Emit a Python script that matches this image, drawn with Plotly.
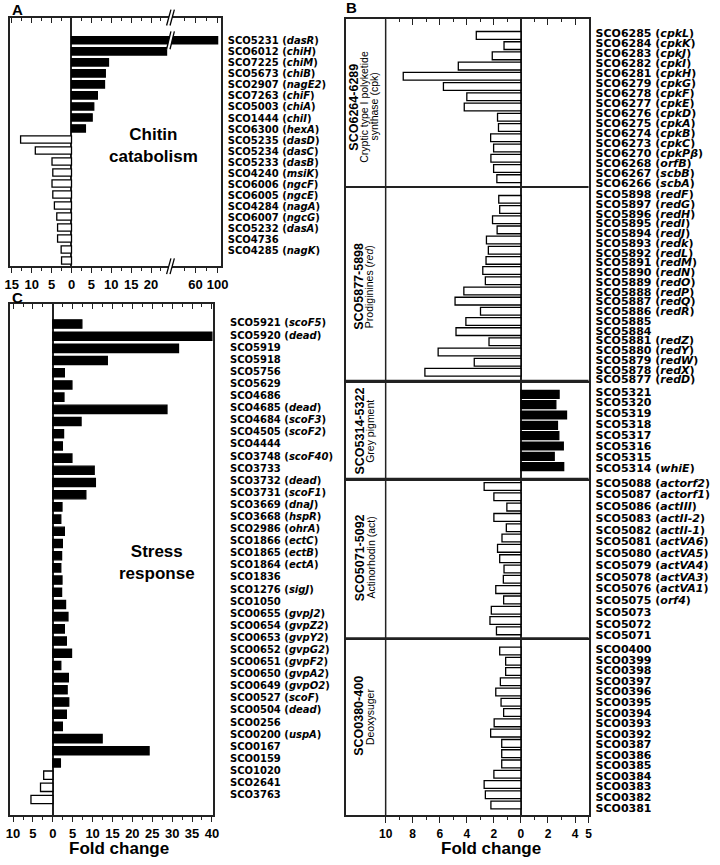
import plotly.graph_objects as go

W, H = 720, 865

# ======================= DATA =======================
# Panel A - chitin catabolism
A_LABELS = ["SCO5231 (<i>dasR</i>)", "SCO6012 (<i>chiH</i>)", "SCO7225 (<i>chiM</i>)", "SCO5673 (<i>chiB</i>)",
            "SCO2907 (<i>nagE2</i>)", "SCO7263 (<i>chiF</i>)", "SCO5003 (<i>chiA</i>)", "SCO1444 (<i>chiI</i>)",
            "SCO6300 (<i>hexA</i>)", "SCO5235 (<i>dasD</i>)", "SCO5234 (<i>dasC</i>)", "SCO5233 (<i>dasB</i>)",
            "SCO4240 (<i>msiK</i>)", "SCO6006 (<i>ngcF</i>)", "SCO6005 (<i>ngcE</i>)", "SCO4284 (<i>nagA</i>)",
            "SCO6007 (<i>ngcG</i>)", "SCO5232 (<i>dasA</i>)", "SCO4736", "SCO4285 (<i>nagK</i>)"]
A_VALUES = [100, 23.9, 9.3, 8.5, 8.3, 6.5, 5.6, 5.2, 3.5,
            -12.8, -9.1, -4.9, -4.7, -4.9, -4.7, -4.3, -3.7, -3.5, -3.5, -2.6, -2.5]
A_LEFT_TICKS = [-15, -10, -5, 0, 5, 10, 15, 20]
A_LEFT_TICKTEXT = ["15", "10", "5", "0", "5", "10", "15", "20"]
A_LEFT_MINOR = [-12.5, -7.5, -2.5, 2.5, 7.5, 12.5, 17.5, 22.5]
A_RIGHT_TICKS = [60, 100]
A_RIGHT_TICKTEXT = ["60", "100"]
A_RIGHT_MINOR = [40, 80]

# Panel C - stress response
C_LABELS = ["SCO5921 (<i>scoF5</i>)", "SCO5920 (<i>dead</i>)", "SCO5919", "SCO5918", "SCO5756", "SCO5629",
            "SCO4686", "SCO4685 (<i>dead</i>)", "SCO4684 (<i>scoF3</i>)", "SCO4505 (<i>scoF2</i>)", "SCO4444",
            "SCO3748 (<i>scoF40</i>)", "SCO3733", "SCO3732 (<i>dead</i>)", "SCO3731 (<i>scoF1</i>)",
            "SCO3669 (<i>dnaJ</i>)", "SCO3668 (<i>hspR</i>)", "SCO2986 (<i>ohrA</i>)", "SCO1866 (<i>ectC</i>)",
            "SCO1865 (<i>ectB</i>)", "SCO1864 (<i>ectA</i>)", "SCO1836", "SCO1276 (<i>sigJ</i>)", "SCO1050",
            "SCO0655 (<i>gvpJ2</i>)", "SCO0654 (<i>gvpZ2</i>)", "SCO0653 (<i>gvpY2</i>)", "SCO0652 (<i>gvpG2</i>)",
            "SCO0651 (<i>gvpF2</i>)", "SCO0650 (<i>gvpA2</i>)", "SCO0649 (<i>gvpO2</i>)", "SCO0527 (<i>scoF</i>)",
            "SCO0504 (<i>dead</i>)", "SCO0256", "SCO0200 (<i>uspA</i>)", "SCO0167", "SCO0159", "SCO1020",
            "SCO2641", "SCO3763"]
C_VALUES = [7.3, 40, 31.6, 13.7, 2.9, 4.8, 2.8, 28.7, 7.1, 2.7, 2.4, 4.8, 10.4, 10.7, 8.3, 2.3, 2.0, 2.9,
            2.4, 2.2, 2.0, 2.3, 2.2, 3.2, 3.8, 2.9, 3.4, 4.7, 2.0, 3.9, 3.6, 4.0, 3.4, 2.4, 12.4, 24.2, 1.9,
            -2.3, -3.1, -5.5]
C_TICKS = [-10, -5, 0, 5, 10, 15, 20, 25, 30, 35, 40]
C_TICKTEXT = ["10", "5", "0", "5", "10", "15", "20", "25", "30", "35", "40"]
C_MINOR = [-7.5, -2.5, 2.5, 7.5, 12.5, 17.5, 22.5, 27.5, 32.5, 37.5]

# Panel B - antibiotic / pigment clusters
CPK_LABELS = ["SCO6285 (<i>cpkL</i>)", "SCO6284 (<i>cpkK</i>)", "SCO6283 (<i>cpkJ</i>)", "SCO6282 (<i>cpkI</i>)",
              "SCO6281 (<i>cpkH</i>)", "SCO6279 (<i>cpkG</i>)", "SCO6278 (<i>cpkF</i>)", "SCO6277 (<i>cpkE</i>)",
              "SCO6276 (<i>cpkD</i>)", "SCO6275 (<i>cpkA</i>)", "SCO6274 (<i>cpkB</i>)", "SCO6273 (<i>cpkC</i>)",
              "SCO6270 (<i>cpkPβ</i>)", "SCO6268 (<i>orfB</i>)", "SCO6267 (<i>scbB</i>)", "SCO6266 (<i>scbA</i>)"]
CPK_VALUES = [-3.30, -1.25, -2.12, -4.63, -8.7, -5.73, -4.0, -4.19, -1.73, -1.66, -2.24, -2.02, -2.22,
              -2.02, -1.78]
RED_LABELS = ["SCO5898 (<i>redF</i>)", "SCO5897 (<i>redG</i>)", "SCO5896 (<i>redH</i>)", "SCO5895 (<i>redI</i>)",
              "SCO5894 (<i>redJ</i>)", "SCO5893 (<i>redk</i>)", "SCO5892 (<i>redL</i>)", "SCO5891 (<i>redM</i>)",
              "SCO5890 (<i>redN</i>)", "SCO5889 (<i>redO</i>)", "SCO5888 (<i>redP</i>)", "SCO5887 (<i>redQ</i>)",
              "SCO5886 (<i>redR</i>)", "SCO5885", "SCO5884", "SCO5881 (<i>redZ</i>)", "SCO5880 (<i>redY</i>)",
              "SCO5879 (<i>redW</i>)", "SCO5878 (<i>redX</i>)", "SCO5877 (<i>redD</i>)"]
RED_VALUES = [-1.64, -1.57, -2.10, -1.76, -2.55, -2.41, -2.58, -2.82, -2.63, -4.22, -4.87, -2.99, -4.07,
              -4.80, -2.36, -6.12, -3.45, -7.1]
GREY_LABELS = ["SCO5321", "SCO5320", "SCO5319", "SCO5318", "SCO5317", "SCO5316", "SCO5315",
               "SCO5314 (<i>whiE</i>)"]
GREY_VALUES = [2.82, 2.58, 3.37, 2.70, 2.80, 3.13, 2.46, 3.16]
ACT_LABELS = ["SCO5088 (<i>actorf2</i>)", "SCO5087 (<i>actorf1</i>)", "SCO5086 (<i>actIII</i>)",
              "SCO5083 (<i>actII-2</i>)", "SCO5082 (<i>actII-1</i>)", "SCO5081 (<i>actVA6</i>)",
              "SCO5080 (<i>actVA5</i>)", "SCO5079 (<i>actVA4</i>)", "SCO5078 (<i>actVA3</i>)",
              "SCO5076 (<i>actVA1</i>)", "SCO5075 (<i>orf4</i>)", "SCO5073", "SCO5072", "SCO5071"]
ACT_VALUES = [-2.72, -2.0, -1.04, -2.0, -1.08, -1.4, -1.73, -1.57, -1.25, -1.3, -1.86, -1.28, -2.19,
              -2.29, -1.81]
DEOXY_LABELS = ["SCO0400", "SCO0399", "SCO0398", "SCO0397", "SCO0396", "SCO0395", "SCO0394", "SCO0393",
                "SCO0392", "SCO0387", "SCO0386", "SCO0385", "SCO0384", "SCO0383", "SCO0382", "SCO0381"]
DEOXY_VALUES = [-1.57, -1.13, -1.13, -1.52, -1.86, -1.47, -1.28, -1.98, -2.24, -1.42, -1.42, -1.42, -2.0,
                -2.72, -2.63, -2.22]
B_GROUP_TITLES = [["SCO6264-6289", "Cryptic type I polyketide", "synthase (cpk)"],
                  ["SCO5877-5898", "Prodiginines (<i>red</i>)"],
                  ["SCO5314-5322", "Grey pigment"],
                  ["SCO5071-5092", "Actinorhodin (act)"],
                  ["SCO0380-400", "Deoxysuger"]]
B_TICKS = [-10, -8, -6, -4, -2, 0, 2, 4, 5]
B_TICKTEXT = ["10", "8", "6", "4", "2", "0", "2", "4", "5"]
B_MINOR = [-9, -7, -5, -3, -1, 1, 3]

# ======================= GEOMETRY (pixels) =======================
def fx(p):
    return p / W


def fy(p):
    return 1 - p / H


def idx_range(n, first, last, top, bottom):
    sp = (last - first) / (n - 1)
    return [(bottom - first) / sp, (top - first) / sp]


# panel A
A_L, A_BRK, A_R, A_T, A_B = 4.3, 167.5, 219.0, 15.7, 266.7
A_ZERO, A_SCALE = 66.7, 4.05
A_XL_RANGE = [(A_L - A_ZERO) / A_SCALE, (A_BRK - A_ZERO) / A_SCALE]
A_XR_RANGE = [14.7, 106.2]
A_BAR_POS = (38.7, 261.0)
A_LAB_POS = (39.0, 251.0)
# panel C
C_L, C_R, C_T, C_B = 4.3, 211.0, 305.0, 821.0
C_ZERO, C_SCALE = 47.7, 4.05
C_X_RANGE = [(C_L - C_ZERO) / C_SCALE, (C_R - C_ZERO) / C_SCALE]
C_BAR_POS = (325.0, 805.0)
C_LAB_POS = (324.0, 800.0)
# panel B
B_L, B_R = 346.0, 593.3
B_ZERO = 525.0
B_X_RANGE = [-12.95, 5.001]
B_EDGES = [17.3, 186.7, 382.3, 481.3, 642.3, 821.0]
B_BAR_POS = [(33.7, 178.3), (199.2, 373.8), (396.0, 469.0), (489.0, 634.7), (655.0, 810.5)]
B_LAB_POS = [(31.7, 183.0), (194.0, 381.0), (393.3, 470.7), (485.3, 639.3), (653.3, 813.3)]
B_TITLE_Y = [106, 287, 433, 561, 721]
B_TITLE_X = [[354, 364.3, 374.3], [360, 370.5], [360, 370.5], [360, 371.5], [360, 371.5]]

LC = "#222222"
LW = 1.5
NUM_FONT = dict(family="Liberation Sans, Arial, sans-serif", size=13, color="black", weight="bold")
NUM_FONT_B = dict(family="Liberation Sans, Arial, sans-serif", size=12, color="black", weight="bold")
GENE_FONT = dict(family="DejaVu Sans, sans-serif", size=10, color="black", weight="bold")
GENE_FONT_B = dict(family="DejaVu Sans, sans-serif", size=11, color="black", weight="bold")

fig = go.Figure()
L = {}


def bars(vals, xa, ya, width):
    return go.Bar(x=vals, y=list(range(len(vals))), orientation="h", xaxis=xa, yaxis=ya, width=width,
                  marker=dict(color=["black" if (v is not None and v > 0) else "white" for v in vals],
                              line=dict(color="black", width=1.3)),
                  showlegend=False, hoverinfo="skip")


def dummy(xa, ya, ys=None):
    ys = ys if ys is not None else []
    return go.Scatter(x=[0] * len(ys), y=ys, xaxis=xa, yaxis=ya, mode="markers",
                      marker=dict(opacity=0, size=1), showlegend=False, hoverinfo="skip")


def xax(domain, anchor, rng, tickvals=None, ticktext=None, minor=None, side="bottom", ticks="outside",
        labels=True, zeroline=True, font=NUM_FONT, showline=True, mirror=True, overlaying=None, ticklen=5):
    d = dict(domain=domain, anchor=anchor, range=rng, side=side, showgrid=False, zeroline=zeroline,
             zerolinecolor=LC, zerolinewidth=LW, showline=showline, linecolor=LC, linewidth=LW, mirror=mirror,
             fixedrange=True, ticklabeloverflow="allow")
    if overlaying:
        d["overlaying"] = overlaying
        d.pop("domain")
    if tickvals is not None and ticks:
        d.update(tickmode="array", tickvals=tickvals, ticks=ticks, ticklen=ticklen, tickwidth=1.3,
                 tickcolor=LC, showticklabels=labels, tickfont=font)
        if ticktext is not None:
            d["ticktext"] = ticktext
        if minor is not None:
            d["minor"] = dict(tickmode="array", tickvals=minor, ticks=ticks, ticklen=3, tickwidth=1.3,
                              tickcolor=LC, showgrid=False)
    else:
        d.update(ticks="", showticklabels=False)
    return d


def yax_bar(domain, anchor, rng):
    return dict(domain=domain, anchor=anchor, range=rng, showgrid=False, zeroline=False, showline=True,
                linecolor=LC, linewidth=LW, ticks="", showticklabels=False, fixedrange=True)


def yax_lab(overlay, anchor, labels, rng, font, standoff):
    return dict(overlaying=overlay, anchor=anchor, side="right", type="category", range=rng,
                tickmode="array", tickvals=labels, ticktext=labels, ticklabeloverflow="allow",
                showgrid=False, zeroline=False, showline=True, linecolor=LC, linewidth=LW, ticks="",
                tickfont=font, ticklabelstandoff=standoff, fixedrange=True)


# ---------------- Panel A ----------------
A_BAR_W = 0.66
fig.add_trace(bars(A_VALUES, "x", "y", A_BAR_W))
fig.add_trace(bars([v if v > A_XL_RANGE[1] else None for v in A_VALUES], "x2", "y", A_BAR_W))
fig.add_trace(dummy("x2", "y2", A_LABELS))
fig.add_trace(dummy("x3", "y"))
fig.add_trace(dummy("x4", "y"))
L["xaxis"] = xax([fx(A_L), fx(A_BRK)], "y", A_XL_RANGE, A_LEFT_TICKS, A_LEFT_TICKTEXT, A_LEFT_MINOR)
L["xaxis2"] = xax([fx(A_BRK), fx(A_R)], "y", A_XR_RANGE, A_RIGHT_TICKS, A_RIGHT_TICKTEXT, A_RIGHT_MINOR,
                  zeroline=False)
L["xaxis3"] = xax(None, "y", A_XL_RANGE, A_LEFT_TICKS, None, A_LEFT_MINOR, side="top", ticks="inside",
                  labels=False, zeroline=False, showline=False, mirror=False, overlaying="x")
L["xaxis4"] = xax(None, "y", A_XR_RANGE, A_RIGHT_TICKS, None, A_RIGHT_MINOR, side="top", ticks="inside",
                  labels=False, zeroline=False, showline=False, mirror=False, overlaying="x2")
L["yaxis"] = yax_bar([fy(A_B), fy(A_T)], "x", idx_range(len(A_VALUES), *A_BAR_POS, A_T, A_B))
L["yaxis2"] = yax_lab("y", "x2", A_LABELS, idx_range(len(A_LABELS), *A_LAB_POS, A_T, A_B), GENE_FONT, 3)

# ---------------- Panel C ----------------
C_BAR_W = 0.68
fig.add_trace(bars(C_VALUES, "x5", "y3", C_BAR_W))
fig.add_trace(dummy("x5", "y4", C_LABELS))
fig.add_trace(dummy("x6", "y3"))
L["xaxis5"] = xax([fx(C_L), fx(C_R)], "y3", C_X_RANGE, C_TICKS, C_TICKTEXT, C_MINOR)
L["xaxis6"] = xax(None, "y3", C_X_RANGE, C_TICKS, None, C_MINOR, side="top", ticks="inside", labels=False,
                  zeroline=False, showline=False, mirror=False, overlaying="x5")
L["yaxis3"] = yax_bar([fy(C_B), fy(C_T)], "x5", idx_range(len(C_VALUES), *C_BAR_POS, C_T, C_B))
L["yaxis4"] = yax_lab("y3", "x5", C_LABELS, idx_range(len(C_LABELS), *C_LAB_POS, C_T, C_B), GENE_FONT, 13)

# ---------------- Panel B ----------------
B_VALUES = [CPK_VALUES, RED_VALUES, GREY_VALUES, ACT_VALUES, DEOXY_VALUES]
B_LABELS = [CPK_LABELS, RED_LABELS, GREY_LABELS, ACT_LABELS, DEOXY_LABELS]
B_BAR_W = 0.76
ng = len(B_VALUES)
for g in range(ng):
    xi, yb, yl = 7 + g, 5 + g, 5 + ng + g
    top, bot = B_EDGES[g], B_EDGES[g + 1]
    fig.add_trace(bars(B_VALUES[g], f"x{xi}", f"y{yb}", B_BAR_W))
    fig.add_trace(dummy(f"x{xi}", f"y{yl}", B_LABELS[g]))
    if g == 0:
        L[f"xaxis{xi}"] = xax([fx(B_L), fx(B_R)], f"y{yb}", B_X_RANGE, B_TICKS, None, B_MINOR, side="top",
                              ticks="inside", labels=False, ticklen=6, mirror=False)
    elif g == ng - 1:
        L[f"xaxis{xi}"] = xax([fx(B_L), fx(B_R)], f"y{yb}", B_X_RANGE, B_TICKS, B_TICKTEXT, B_MINOR,
                              font=NUM_FONT_B, ticklen=6, mirror=False)
    else:
        L[f"xaxis{xi}"] = xax([fx(B_L), fx(B_R)], f"y{yb}", B_X_RANGE, mirror=False)
    L[f"yaxis{yb}"] = yax_bar([fy(bot), fy(top)], f"x{xi}",
                              idx_range(len(B_VALUES[g]), *B_BAR_POS[g], top, bot))
    L[f"yaxis{yl}"] = yax_lab(f"y{yb}", f"x{xi}", B_LABELS[g],
                              idx_range(len(B_LABELS[g]), *B_LAB_POS[g], top, bot), GENE_FONT_B, 3)

# ---------------- shapes ----------------
shapes = [dict(type="line", xref="x7", yref="paper", x0=-10, x1=-10, y0=fy(B_EDGES[-1]), y1=fy(B_EDGES[0]),
               line=dict(color=LC, width=LW))]
# group separators in panel B
for e in B_EDGES[1:-1]:
    shapes.append(dict(type="line", xref="paper", yref="paper", x0=fx(B_L), x1=fx(B_R), y0=fy(e), y1=fy(e),
                       line=dict(color=LC, width=2)))


def axis_break(xp, yp, h=9.0, gap=3.5, slant=2.2):
    x1a, x1b = xp - gap / 2 - slant, xp - gap / 2 + slant
    x2a, x2b = xp + gap / 2 - slant, xp + gap / 2 + slant
    path = (f"M {fx(x1a)},{fy(yp + h)} L {fx(x2a)},{fy(yp + h)} "
            f"L {fx(x2b)},{fy(yp - h)} L {fx(x1b)},{fy(yp - h)} Z")
    return [dict(type="path", xref="paper", yref="paper", path=path, fillcolor="white",
                 line=dict(width=0)),
            dict(type="line", xref="paper", yref="paper", x0=fx(x1a), y0=fy(yp + h), x1=fx(x1b),
                 y1=fy(yp - h), line=dict(color="black", width=1.3)),
            dict(type="line", xref="paper", yref="paper", x0=fx(x2a), y0=fy(yp + h), x1=fx(x2b),
                 y1=fy(yp - h), line=dict(color="black", width=1.3))]


for yy in (A_T, A_B, A_BAR_POS[0]):
    shapes += axis_break(A_BRK, yy, h=8 if yy != A_BAR_POS[0] else 9)

# ---------------- annotations ----------------
ann = []


def txt(x, y, s, size, bold=True, angle=0, family="Liberation Sans, Arial, sans-serif", xanchor="center"):
    ann.append(dict(x=fx(x), y=fy(y), xref="paper", yref="paper", text=s, showarrow=False,
                    textangle=angle, xanchor=xanchor, yanchor="middle",
                    font=dict(family=family, size=size, color="black", weight="bold" if bold else "normal")))


txt(4, 8, "A", 15, xanchor="left")
txt(344, 6, "B", 15, xanchor="left")
txt(4, 298, "C", 15, xanchor="left")
txt(150, 145, "Chitin<br>catabolism", 17)
txt(154, 566, "Stress<br>response", 17)
txt(115, 854, "Fold change", 17)
txt(494, 854, "Fold change", 17)
for g in range(ng):
    for k, line in enumerate(B_GROUP_TITLES[g]):
        txt(B_TITLE_X[g][k], B_TITLE_Y[g], line, 12.5 if k == 0 else 10.5, bold=(k == 0), angle=-90)

fig.update_layout(width=W, height=H, margin=dict(l=0, r=0, t=0, b=0), autosize=False,
                  paper_bgcolor="white", plot_bgcolor="white", showlegend=False,
                  barmode="overlay", shapes=shapes, annotations=ann, **L)
fig.write_html("out.html", config={"displayModeBar": False},
               post_script="document.body.style.margin='0px';")
